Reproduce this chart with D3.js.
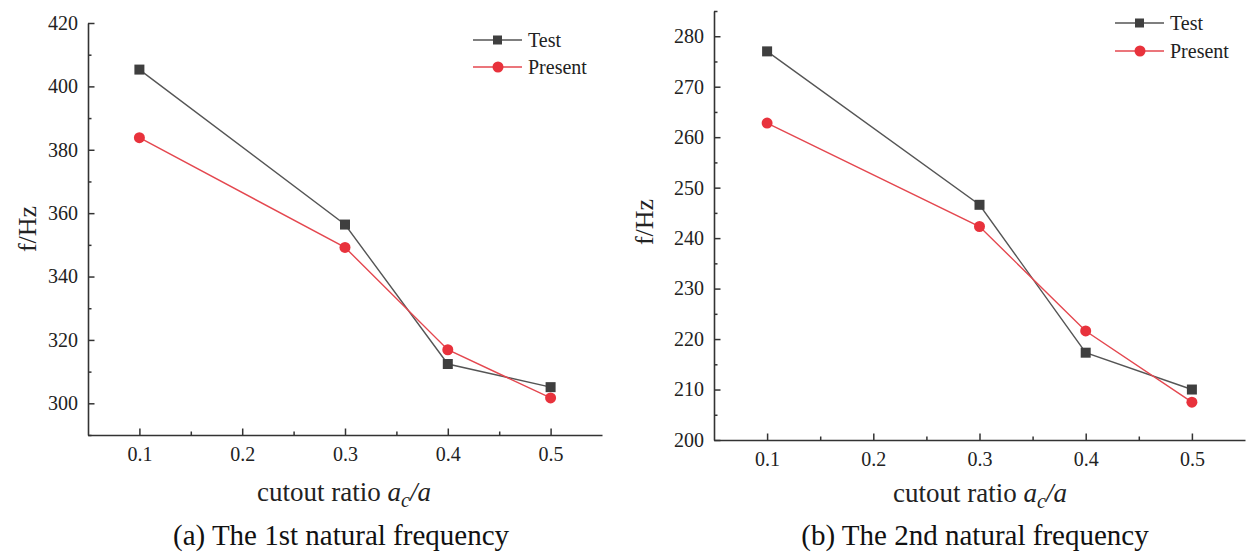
<!DOCTYPE html>
<html>
<head>
<meta charset="utf-8">
<script src="https://cdn.jsdelivr.net/npm/d3@7"></script>
<style>
  body { margin: 0; background: #fff; }
  svg text { font-family: "Liberation Serif", "DejaVu Serif", serif !important; }
</style>
</head>
<body>
<svg id="chart" width="1247" height="553"></svg>
<script>
const ratios = [0.1, 0.3, 0.4, 0.5];
const xTicks = [0.1, 0.2, 0.3, 0.4, 0.5];

// panel (a): 1st natural frequency
const testA = [405.3, 356.4, 312.4, 305.1];
const presentA = [383.8, 349.2, 316.9, 301.7];
const yTicksA = [300, 320, 340, 360, 380, 400, 420];

// panel (b): 2nd natural frequency
const testB = [277.0, 246.6, 217.3, 210.0];
const presentB = [262.8, 242.3, 221.6, 207.5];
const yTicksB = [200, 210, 220, 230, 240, 250, 260, 270, 280];

const seriesNames = ['Test', 'Present'];
const captions = ['(a) The 1st natural frequency', '(b) The 2nd natural frequency'];

const testColor = '#3f3f3f';
const presentColor = '#e8323c';

const svg = d3.select('#chart');

function drawPanel(opts) {
  const g = svg.append('g');

  const x = d3.scaleLinear().domain([0.05, 0.55]).range([opts.left, opts.right]);
  const y = d3.scaleLinear().domain(opts.yDomain).range([opts.bottom, opts.top]);

  // minor ticks
  const yMinor = d3.range(opts.yDomain[0], opts.yDomain[1] + 0.001, opts.yStep / 2)
    .filter(v => !opts.yTicks.includes(v));
  const xMinor = [0.15, 0.25, 0.35, 0.45];

  g.append('g')
    .attr('transform', `translate(0,${opts.bottom})`)
    .call(d3.axisBottom(x).tickValues(xMinor).tickSize(-3.5).tickFormat(''))
    .call(a => a.select('.domain').remove())
    .selectAll('line').attr('stroke', '#333').attr('stroke-width', 1.5);

  g.append('g')
    .attr('transform', `translate(${opts.left},0)`)
    .call(d3.axisLeft(y).tickValues(yMinor).tickSize(-3.5).tickFormat(''))
    .call(a => a.select('.domain').remove())
    .selectAll('line').attr('stroke', '#333').attr('stroke-width', 1.5);

  const xAxis = g.append('g')
    .attr('transform', `translate(0,${opts.bottom})`)
    .call(d3.axisBottom(x).tickValues(xTicks).tickSize(-6.5).tickSizeOuter(0).tickPadding(12).tickFormat(d3.format('.1f')));

  const yAxis = g.append('g')
    .attr('transform', `translate(${opts.left},0)`)
    .call(d3.axisLeft(y).tickValues(opts.yTicks).tickSize(-6.5).tickSizeOuter(0).tickPadding(10).tickFormat(d3.format('d')));

  [xAxis, yAxis].forEach(a => {
    a.select('.domain').attr('stroke', '#333').attr('stroke-width', 1.6);
    a.selectAll('line').attr('stroke', '#333').attr('stroke-width', 1.5);
    a.selectAll('text').attr('font-size', 20).attr('fill', '#222');
  });

  // lines
  const line = d3.line().x((d, i) => x(ratios[i])).y(d => y(d));

  g.append('path').datum(opts.test)
    .attr('fill', 'none').attr('stroke', '#555').attr('stroke-width', 1.4)
    .attr('d', line);
  g.append('path').datum(opts.present)
    .attr('fill', 'none').attr('stroke', '#e4474f').attr('stroke-width', 1.4)
    .attr('d', line);

  g.append('g').selectAll('rect').data(opts.test).join('rect')
    .attr('x', (d, i) => x(ratios[i]) - 5)
    .attr('y', d => y(d) - 5)
    .attr('width', 10).attr('height', 10)
    .attr('fill', testColor);

  g.append('g').selectAll('circle').data(opts.present).join('circle')
    .attr('cx', (d, i) => x(ratios[i]))
    .attr('cy', d => y(d))
    .attr('r', 5.5)
    .attr('fill', presentColor);

  // legend
  const leg = g.append('g').attr('transform', `translate(${opts.legX},${opts.legY})`);
  seriesNames.forEach((name, i) => {
    const row = leg.append('g').attr('transform', `translate(0,${i * opts.legGap})`);
    row.append('line').attr('x1', 0).attr('x2', 49).attr('y1', 0).attr('y2', 0)
      .attr('stroke', i === 0 ? '#555' : '#e4474f').attr('stroke-width', 1.4);
    if (i === 0) {
      row.append('rect').attr('x', 20).attr('y', -4.5).attr('width', 9).attr('height', 9).attr('fill', testColor);
    } else {
      row.append('circle').attr('cx', 25).attr('cy', 0).attr('r', 5.5).attr('fill', presentColor);
    }
    row.append('text').attr('x', 55).attr('y', 7).attr('font-size', 20).attr('fill', '#222').text(name);
  });

  // axis titles
  g.append('text')
    .attr('transform', `translate(${opts.yLabelX},${opts.yLabelY}) rotate(-90)`)
    .attr('text-anchor', 'middle').attr('dy', '0.35em').attr('font-size', 26).attr('fill', '#222')
    .text('f/Hz');

  const xt = g.append('text')
    .attr('x', opts.titleX).attr('y', opts.bottom + opts.titleDy)
    .attr('text-anchor', 'middle').attr('font-size', 27).attr('fill', '#222');
  xt.append('tspan').text('cutout ratio ');
  xt.append('tspan').attr('font-style', 'italic').text('a');
  xt.append('tspan').attr('font-style', 'italic').attr('font-size', 20).attr('dy', 6).text('c');
  xt.append('tspan').attr('font-style', 'italic').attr('dy', -6).text('/a');

  g.append('text')
    .attr('x', opts.capX).attr('y', 545)
    .attr('text-anchor', 'middle').attr('font-size', 29).attr('fill', '#111')
    .text(opts.caption);
}

drawPanel({
  left: 88, right: 602, top: 23, bottom: 435,
  yDomain: [290, 420], yTicks: yTicksA, yStep: 20,
  test: testA, present: presentA,
  legX: 473, legY: 40, legGap: 27, yLabelX: 27, yLabelY: 229,
  titleX: 344, titleDy: 66, capX: 341, caption: captions[0]
});

drawPanel({
  left: 714, right: 1245, top: 11, bottom: 440,
  yDomain: [200, 285], yTicks: yTicksB, yStep: 10,
  test: testB, present: presentB,
  legX: 1115, legY: 23, legGap: 28, yLabelX: 644, yLabelY: 222,
  titleX: 980, titleDy: 62, capX: 975, caption: captions[1]
});
</script>
</body>
</html>
